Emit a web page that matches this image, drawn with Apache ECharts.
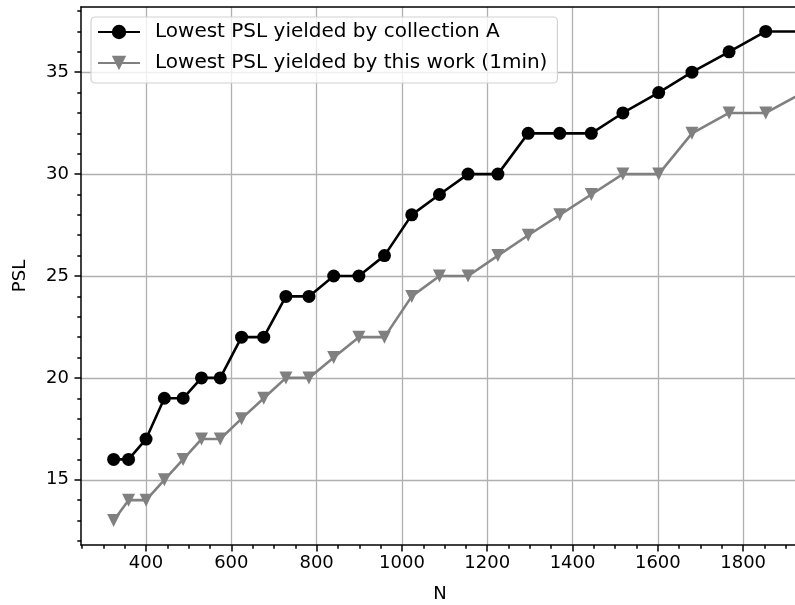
<!DOCTYPE html>
<html>
<head>
<meta charset="utf-8">
<title>PSL vs N</title>
<script src="https://cdn.jsdelivr.net/npm/echarts@6/dist/echarts.min.js"></script>
<style>
  html, body { margin: 0; padding: 0; background: #fff; }
  #chart { width: 795px; height: 605px; }
</style>
</head>
<body>
<div id="chart"></div>
<script>
// sequence lengths
var lengthN = [324, 359, 400, 443, 487, 530, 574, 624, 676, 728, 782, 840, 899, 959,
  1023, 1088, 1155, 1225, 1296, 1370, 1444, 1518, 1602, 1680, 1767, 1853, 1940];
var pslCollectionA = [16, 16, 17, 19, 19, 20, 20, 22, 22, 24, 24, 25, 25, 26,
  28, 29, 30, 30, 32, 32, 32, 33, 34, 35, 36, 37, 37];
var pslThisWork = [13, 14, 14, 15, 16, 17, 17, 18, 19, 20, 20, 21, 22, 22,
  24, 25, 25, 26, 27, 28, 29, 30, 30, 32, 33, 33, 34];

var xTicks = [400, 600, 800, 1000, 1200, 1400, 1600, 1800];
var xMinorTicks = [250, 300, 350, 450, 500, 550, 650, 700, 750, 850, 900, 950, 1050, 1100,
  1150, 1250, 1300, 1350, 1450, 1500, 1550, 1650, 1700, 1750, 1850, 1900];
var yTicks = [15, 20, 25, 30, 35];
var yMinorTicks = [12, 13, 14, 16, 17, 18, 19, 21, 22, 23, 24, 26, 27, 28, 29, 31, 32, 33, 34, 36, 37, 38];

var xMin = 247.5, xMax = 1931;
var yMin = 11.8, yMax = 38.2;

var FONT = "DejaVu Sans";

function pairs(xs, ys) {
  return xs.map(function (x, i) { return [x, ys[i]]; });
}

var chart = echarts.init(document.getElementById("chart"), null, { renderer: "canvas" });

var tickLine = { color: "#000", width: 1.5 };

chart.setOption({
  animation: false,
  backgroundColor: "#fff",
  grid: {
    left: 81,
    right: -4,
    top: 7,
    bottom: 60,
    outerBoundsMode: "none",
  },
  legend: {
    orient: "vertical",
    left: 91,
    top: 17,
    padding: [5, 10, 10, 6],
    itemGap: 11,
    itemWidth: 42,
    itemHeight: 18,
    backgroundColor: "rgba(255,255,255,0.8)",
    borderColor: "#d2d2d2",
    borderWidth: 1.2,
    borderRadius: 4,
    textStyle: {
      fontFamily: FONT,
      fontSize: 20,
      color: "#000",
      padding: [0, 0, 0, 10],
    },
    data: ["Lowest PSL yielded by collection A", "Lowest PSL yielded by this work (1min)"],
  },
  xAxis: [
    {
      type: "value",
      position: "bottom",
      min: xMin,
      max: xMax,
      splitNumber: 8,
      name: "N",
      nameLocation: "middle",
      nameGap: 40,
      nameTextStyle: { fontFamily: FONT, fontSize: 18, color: "#000" },
      axisLine: { show: true, lineStyle: tickLine },
      axisTick: { show: true, customValues: xTicks, length: 6.5, lineStyle: tickLine },
      axisLabel: {
        customValues: xTicks,
        fontFamily: FONT,
        fontSize: 18,
        color: "#000",
        margin: 9,
        formatter: function (v) { return String(v); },
      },
      splitLine: { show: true, lineStyle: { color: "#b0b0b0", width: 1.3 } },
    },
    {
      // minor ticks
      type: "value",
      position: "bottom",
      min: xMin,
      max: xMax,
      axisLine: { show: false },
      axisTick: { show: true, customValues: xMinorTicks, length: 3.7, lineStyle: tickLine },
      axisLabel: { show: false },
      splitLine: { show: false },
    },
    {
      // top spine
      type: "value",
      position: "top",
      min: xMin,
      max: xMax,
      axisLine: { show: true, lineStyle: tickLine },
      axisTick: { show: false },
      axisLabel: { show: false },
      splitLine: { show: false },
    },
  ],
  yAxis: [
    {
      type: "value",
      position: "left",
      min: yMin,
      max: yMax,
      splitNumber: 5,
      name: "PSL",
      nameLocation: "middle",
      nameRotate: 90,
      nameGap: 52,
      nameTextStyle: { fontFamily: FONT, fontSize: 18, color: "#000" },
      axisLine: { show: true, lineStyle: tickLine },
      axisTick: { show: true, customValues: yTicks, length: 6.5, lineStyle: tickLine },
      axisLabel: {
        customValues: yTicks,
        fontFamily: FONT,
        fontSize: 18,
        color: "#000",
        margin: 12,
        formatter: function (v) { return String(v); },
      },
      splitLine: { show: true, lineStyle: { color: "#b0b0b0", width: 1.3 } },
    },
    {
      // minor ticks
      type: "value",
      position: "left",
      min: yMin,
      max: yMax,
      axisLine: { show: false },
      axisTick: { show: true, customValues: yMinorTicks, length: 3.7, lineStyle: tickLine },
      axisLabel: { show: false },
      splitLine: { show: false },
    },
  ],
  series: [
    {
      name: "Lowest PSL yielded by collection A",
      type: "line",
      xAxisIndex: 0,
      yAxisIndex: 0,
      data: pairs(lengthN, pslCollectionA),
      symbol: "circle",
      symbolSize: 13,
      clip: true,
      lineStyle: { color: "#000", width: 2.6 },
      itemStyle: { color: "#000" },
    },
    {
      name: "Lowest PSL yielded by this work (1min)",
      type: "line",
      xAxisIndex: 0,
      yAxisIndex: 0,
      data: pairs(lengthN, pslThisWork),
      symbol: "triangle",
      symbolRotate: 180,
      symbolSize: 13,
      clip: true,
      lineStyle: { color: "#808080", width: 2.6 },
      itemStyle: { color: "#808080" },
    },
  ],
});
</script>
</body>
</html>
